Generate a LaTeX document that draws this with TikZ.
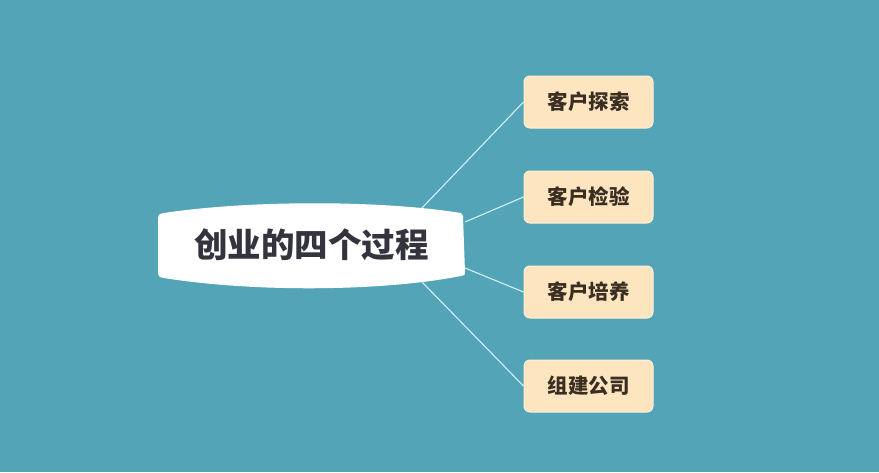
\documentclass[tikz,border=0pt]{standalone}
\usepackage{fontspec}
\newfontfamily\cjk{Noto Sans CJK SC}
\definecolor{bg}{HTML}{53A4B6}
\definecolor{boxfill}{HTML}{FDE5C0}
\definecolor{boxline}{HTML}{FFF0D6}
\definecolor{linkc}{HTML}{CFF2F8}
\definecolor{boxtext}{HTML}{3A2E22}
\definecolor{maintext}{HTML}{34343F}
\begin{document}
\begin{tikzpicture}[x=1pt,y=-1pt,
  leaf/.style={draw=boxline,line width=1pt,fill=boxfill,rounded corners=6pt,minimum width=129pt,minimum height=52pt,inner sep=0pt,font=\cjk\bfseries\fontsize{20.5}{22}\selectfont,text=boxtext},
  link/.style={draw=linkc,line width=1.1pt}]
\fill[bg] (0,0) rectangle (879,472);
\useasboundingbox (0,0) rectangle (879,472);
% central shape
\fill[white] (164,213) .. controls (250,200) and (380,200) .. (461,213)
  -- (463,216) -- (465,272) .. controls (465,275) .. (461,276)
  .. controls (380,292) and (250,292) .. (164,278)
  .. controls (159,277) .. (158,273) -- (158,218) .. controls (159,214) .. (164,213) -- cycle;
\node[font=\cjk\bfseries\fontsize{33.5}{36}\selectfont,text=maintext] (root) at (311.5,245) {创业的四个过程};
\coordinate (r1) at (422,208);
\coordinate (r2) at (465,222);
\coordinate (r3) at (465,268);
\coordinate (r4) at (422,282);
\node[leaf] (a) at (588.5,102) {客户探索};
\node[leaf] (b) at (588.5,197) {客户检验};
\node[leaf] (c) at (588.5,292) {客户培养};
\node[leaf] (d) at (588.5,386) {组建公司};
\draw[link] (r1) -- (a.west);
\draw[link] (r2) -- (b.west);
\draw[link] (r3) -- (c.west);
\draw[link] (r4) -- (d.west);
\end{tikzpicture}
\end{document}
